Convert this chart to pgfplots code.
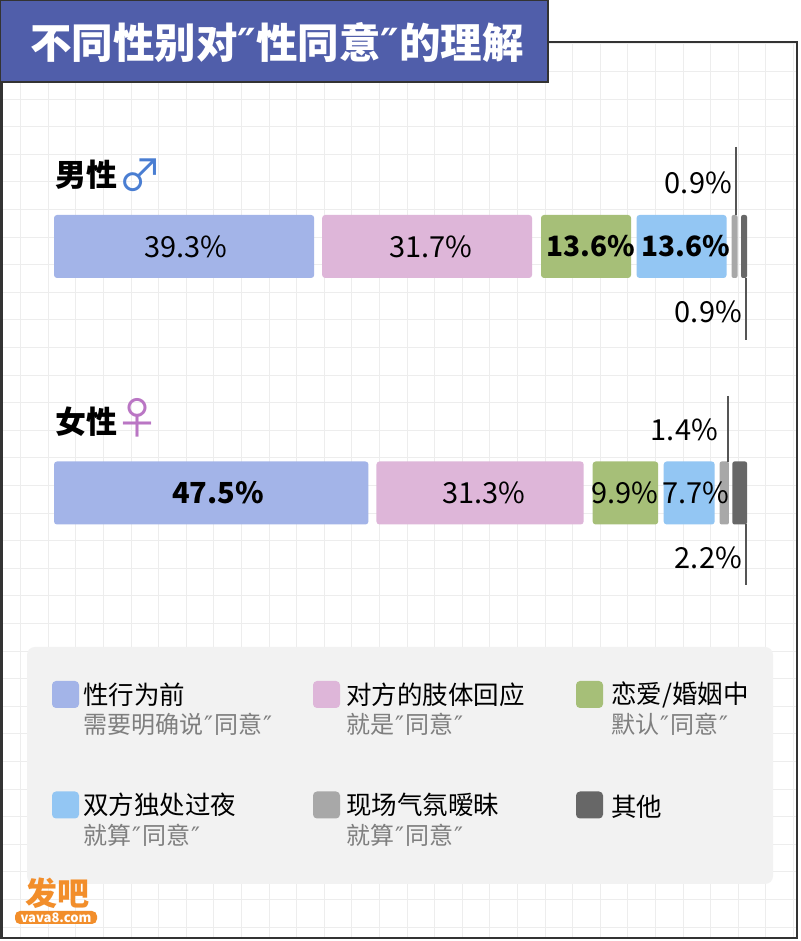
\documentclass[border=0pt]{standalone}
\usepackage{fontspec}
\setmainfont{Noto Sans CJK SC}
\newfontfamily\djv{DejaVu Sans}
\usepackage{pgfplots}
\pgfplotsset{compat=1.18}
\definecolor{c1}{HTML}{A3B4E8}
\definecolor{c2}{HTML}{DEB6D9}
\definecolor{c3}{HTML}{A6BF78}
\definecolor{c4}{HTML}{93C6F3}
\definecolor{c5}{HTML}{A8A8A8}
\definecolor{c6}{HTML}{676767}
\definecolor{titleblue}{HTML}{505EAA}
\definecolor{gridc}{HTML}{EDEDED}
\definecolor{legbg}{HTML}{F2F2F2}
\definecolor{maleblue}{HTML}{4A7ED2}
\definecolor{femalepink}{HTML}{BA76C4}
\definecolor{logoorange}{HTML}{F28E2B}
\definecolor{framec}{HTML}{333333}
\definecolor{leadc}{HTML}{555555}
\definecolor{subgray}{HTML}{7F7F7F}
\newcommand{\fs}[1]{\fontsize{#1pt}{#1pt}\selectfont}
\newcommand{\q}{{\djv\mdseries\hspace{1pt}″\hspace{1pt}}}
\begin{document}
\begin{tikzpicture}
\useasboundingbox (0,0) rectangle (800pt,941pt);
\begin{scope}[x=1pt,y=1pt]
\fill[white] (0,0) rectangle (800,941);
\begin{scope}
\clip (2,3) rectangle (797,899);
\foreach \k in {0,...,28} \draw[gridc, line width=0.9pt] ({20.7+27.6*\k},0) -- ({20.7+27.6*\k},941);
\foreach \k in {-2,...,30} \draw[gridc, line width=0.9pt] (0,{842-27.6*\k}) -- (800,{842-27.6*\k});
\end{scope}
\draw[framec, line width=2.5pt] (1.5,3) rectangle (797,899);
% title
\draw[fill=titleblue, draw=black!80, line width=1.2pt] (0,859) rectangle (548,941);
\node[anchor=west, inner sep=0, text=white, font=\fs{41.5}\bfseries] at (30,898.5) {不同性别对{\djv\bfseries ″}性同意{\djv\bfseries ″}的理解};
% group labels
\node[anchor=west, inner sep=0, font=\fs{31}\bfseries] at (55,766) {男性};
\node[anchor=west, inner sep=0, font=\fs{44}, text=maleblue] at (118,765.5) {♂};
\node[anchor=west, inner sep=0, font=\fs{31}\bfseries] at (55,519) {女性};
\node[anchor=west, inner sep=0, font=\fs{44}, text=femalepink] at (115,523.5) {♀};
% legend
\fill[legbg, rounded corners=8pt] (27,57) rectangle (773,294);
\fill[c1, rounded corners=4pt] (52,233) rectangle (79,260);
\fill[c2, rounded corners=4pt] (313,233) rectangle (340,260);
\fill[c3, rounded corners=4pt] (576,233) rectangle (603,260);
\fill[c4, rounded corners=4pt] (52,122.5) rectangle (79,149.5);
\fill[c5, rounded corners=4pt] (313,122.5) rectangle (340,149.5);
\fill[c6, rounded corners=4pt] (576,122.5) rectangle (603,149.5);
\begin{scope}[every node/.style={anchor=west, inner sep=0}]
\node[font=\fs{25.5}] at (83,246.5) {性行为前};
\node[font=\fs{24}, text=subgray] at (83,216.5) {需要明确说\q 同意\q};
\node[font=\fs{25.5}] at (346,246.5) {对方的肢体回应};
\node[font=\fs{24}, text=subgray] at (346,216.5) {就是\q 同意\q};
\node[font=\fs{25.5}] at (611,246.5) {恋爱/婚姻中};
\node[font=\fs{24}, text=subgray] at (611,216.5) {默认\q 同意\q};
\node[font=\fs{25.5}] at (83,136) {双方独处过夜};
\node[font=\fs{24}, text=subgray] at (83,106) {就算\q 同意\q};
\node[font=\fs{25.5}] at (346,136) {现场气氛暧昧};
\node[font=\fs{24}, text=subgray] at (346,106) {就算\q 同意\q};
\node[font=\fs{25.5}] at (611,134) {其他};
\end{scope}
% logo
\node[anchor=west, inner sep=0, text=logoorange, font=\fs{32}\bfseries] at (25,48) {发吧};
\fill[logoorange, rounded corners=5pt] (15,17) rectangle (97,30);
\node[inner sep=0, text=white, font=\fs{13}\bfseries] at (56,23.5) {vava8.com};
\end{scope}

\begin{axis}[at={(0pt,0pt)}, anchor=south west, scale only axis,
  width=800pt, height=941pt,
  xmin=-8.1571, xmax=112.6888, ymin=0, ymax=941,
  hide axis, clip=false, xbar stacked, bar width=63pt]
\addplot[fill=c1, draw=none, rounded corners=3pt] coordinates {(39.3,694.5) (47.5,448)};
\addplot[draw=none, fill=none] coordinates {(1.208,694.5) (1.208,448)};
\addplot[fill=c2, draw=none, rounded corners=3pt] coordinates {(31.7,694.5) (31.3,448)};
\addplot[draw=none, fill=none] coordinates {(1.360,694.5) (1.360,448)};
\addplot[fill=c3, draw=none, rounded corners=3pt] coordinates {(13.6,694.5) (9.9,448)};
\addplot[draw=none, fill=none] coordinates {(0.831,694.5) (0.831,448)};
\addplot[fill=c4, draw=none, rounded corners=3pt] coordinates {(13.6,694.5) (7.7,448)};
\addplot[draw=none, fill=none] coordinates {(0.755,694.5) (0.755,448)};
\addplot[fill=c5, draw=none, rounded corners=2pt] coordinates {(0.9,694.5) (1.4,448)};
\addplot[draw=none, fill=none] coordinates {(0.529,694.5) (0.529,448)};
\addplot[fill=c6, draw=none, rounded corners=2pt] coordinates {(0.9,694.5) (2.2,448)};
\end{axis}

\begin{scope}[x=1pt,y=1pt]
\node[font=\fs{29}] at (186,694.5) {39.3\%};
\node[font=\fs{29}] at (431,694.5) {31.7\%};
\node[font=\fs{28}\bfseries] at (590.5,694.5) {13.6\%};
\node[font=\fs{28}\bfseries] at (685.5,694.5) {13.6\%};
\node[font=\fs{29}\bfseries] at (218,448) {47.5\%};
\node[font=\fs{29}] at (484,448) {31.3\%};
\node[font=\fs{29}] at (624.5,448) {9.9\%};
\node[font=\fs{29}] at (695.5,448) {7.7\%};
\draw[leadc, line width=1.3pt] (736,794) -- (736,726);
\draw[leadc, line width=1.3pt] (746,663) -- (746,601);
\draw[leadc, line width=1.3pt] (728,545) -- (728,479);
\draw[leadc, line width=1.3pt] (746,417) -- (746,356);
\node[font=\fs{29}, anchor=east, inner sep=0] at (732,758) {0.9\%};
\node[font=\fs{29}, anchor=east, inner sep=0] at (742,629) {0.9\%};
\node[font=\fs{29}, anchor=east, inner sep=0] at (718,511) {1.4\%};
\node[font=\fs{29}, anchor=east, inner sep=0] at (742,383) {2.2\%};
\end{scope}
\end{tikzpicture}
\end{document}
